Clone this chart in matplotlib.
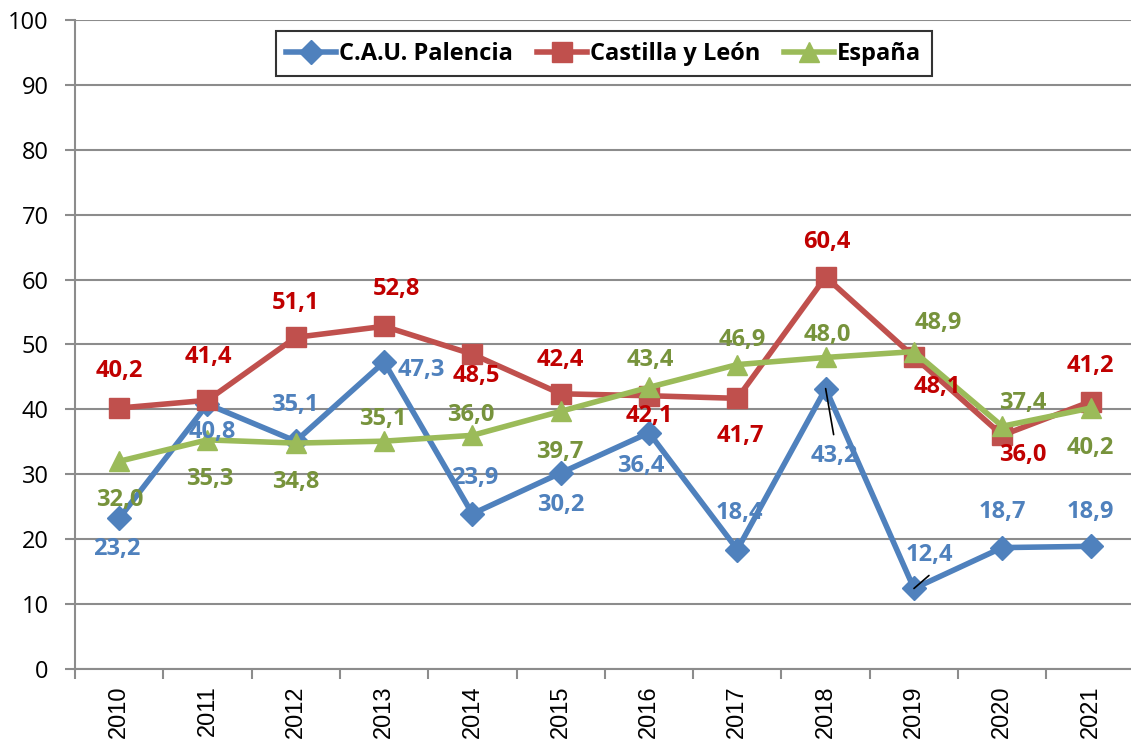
import matplotlib
matplotlib.use("Agg")
import matplotlib.pyplot as plt

plt.rcParams['font.family'] = ['Open Sans', 'DejaVu Sans']

years = ['2010', '2011', '2012', '2013', '2014', '2015', '2016', '2017', '2018', '2019', '2020', '2021']
palencia = [23.2, 40.8, 35.1, 47.3, 23.9, 30.2, 36.4, 18.4, 43.2, 12.4, 18.7, 18.9]
cyl = [40.2, 41.4, 51.1, 52.8, 48.5, 42.4, 42.1, 41.7, 60.4, 48.1, 36.0, 41.2]
espana = [32.0, 35.3, 34.8, 35.1, 36.0, 39.7, 43.4, 46.9, 48.0, 48.9, 37.4, 40.2]

# label offsets in pixels (dx, dy), dy positive = up
off_pal = [(-2, -31), (5, -28), (-1, 36), (37, -8), (2, 36), (0, -32),
           (-8, -33), (2, 37), (9, -67), (15, 33), (0, 36), (0, 34)]
off_cyl = [(0, 37), (1, 43), (0, 34), (12, 37), (4, -22), (0, 34),
           (0, -20), (3, -38), (1, 35), (23, -30), (20, -20), (0, 36)]
off_esp = [(1, -39), (2, -39), (0, -39), (-1, 22), (-2, 20), (-1, -41),
           (1, 27), (5, 25), (2, 22), (24, 29), (20, 23), (0, -40)]

fig = plt.figure(figsize=(11.31, 7.40), dpi=100)
ax = fig.add_axes([0.0663, 0.096, 0.937, 0.877])

x = list(range(len(years)))
ax.plot(x, palencia, color='#4F81BD', lw=4, marker='D', ms=12, label='C.A.U. Palencia', zorder=3)
ax.plot(x, cyl, color='#C0504D', lw=4, marker='s', ms=14, label='Castilla y León', zorder=4)
ax.plot(x, espana, color='#9BBB59', lw=4, marker='^', ms=15, label='España', zorder=5)

def labels(vals, offs, color):
    for i, (v, o) in enumerate(zip(vals, offs)):
        ax.annotate(f'{v:.1f}'.replace('.', ','), (i, v), xytext=o, textcoords='offset pixels',
                    ha='center', va='center', fontsize=17, fontweight='bold', color=color, zorder=6)

labels(palencia, off_pal, '#4F81BD')
labels(cyl, off_cyl, '#C00000')
labels(espana, off_esp, '#77933C')

# leader lines
ax.annotate('', (8, 43.2), xytext=(8, -46), textcoords='offset pixels',
            arrowprops=dict(arrowstyle='-', color='black', lw=1.2, shrinkA=0, shrinkB=0))
ax.annotate('', (9, 12.4), xytext=(15, 13), textcoords='offset pixels',
            arrowprops=dict(arrowstyle='-', color='black', lw=1.2, shrinkA=0, shrinkB=0))

ax.set_ylim(0, 100)
ax.set_xlim(-0.5, 11.5)
ax.set_yticks(range(0, 101, 10))
ax.yaxis.grid(True, color='#8C8C8C', lw=1.5)
ax.set_axisbelow(True)
ax.set_xticks(x)
ax.set_xticklabels(years, rotation=90, fontsize=17, family=['Liberation Sans', 'DejaVu Sans'])
ax.tick_params(axis='x', length=0, pad=12)
ax.set_xticks([i - 0.5 for i in range(13)], minor=True)
ax.tick_params(axis='x', which='minor', length=7, width=1.5, color='#8C8C8C')
ax.tick_params(axis='y', labelsize=17, length=7, width=1.5, color='#8C8C8C', pad=12)
for s in ['top', 'right']:
    ax.spines[s].set_visible(False)
for s in ['left', 'bottom']:
    ax.spines[s].set_color('#8C8C8C')
    ax.spines[s].set_linewidth(1.5)

leg = ax.legend(loc='upper center', bbox_to_anchor=(0.499, 0.99), ncol=3, frameon=True, fancybox=False,
                edgecolor='black', prop={'weight': 'bold', 'size': 17}, handlelength=2.1,
                columnspacing=1.0, handletextpad=0.15, borderpad=0.45, borderaxespad=0.2)
leg.get_frame().set_linewidth(1.5)

fig.savefig('out.png', dpi=100)
